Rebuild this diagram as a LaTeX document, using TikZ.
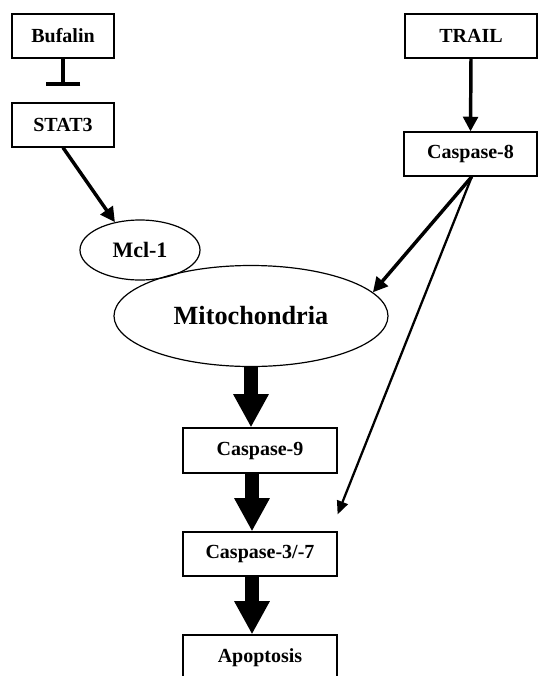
\documentclass[tikz,border=0pt]{standalone}
\usepackage{fontspec}
\setmainfont{Liberation Serif}
\usetikzlibrary{arrows.meta,positioning,shapes.geometric}
\tikzset{font=\bfseries}
\tikzset{box/.style={draw, line width=.9pt, inner sep=0pt,
    minimum height=33pt, font=\fontsize{15}{16}\bfseries}}
\tikzset{oval/.style={draw, ellipse, line width=.9pt, inner sep=0pt}}
\tikzset{act/.style={line width=2.6pt, -{Triangle[length=11pt,width=11pt]}}}
\tikzset{actthin/.style={line width=1.7pt, -{Triangle[length=10pt,width=8.5pt]}}}
\tikzset{fat/.style={line width=11pt, -{Triangle[length=25pt,width=25pt]}}}
\tikzset{inhibits/.style={line width=2.6pt, -{Bar[width=26pt,line width=3pt]}}}

\begin{document}
\begin{tikzpicture}[x=.75pt,y=-.75pt]
  \useasboundingbox (0,0) rectangle (538,676);

  \node[box, minimum width=76.5pt] (bufalin) at (63,36) {Bufalin};
  \node[box, minimum width=76.5pt] (stat3) at (63,125) {STAT3};
  \node[box, minimum width=99pt] (trail) at (471,36) {TRAIL};
  \node[box, minimum width=99.75pt] (casp8) at (470.5,154) {Caspase-8};

  \node[oval, minimum width=90pt, minimum height=45pt,
    font=\fontsize{16.5}{18}\bfseries] (mcl) at (140,250) {Mcl-1};
  \node[oval, minimum width=205.5pt, minimum height=75.75pt,
    font=\fontsize{19.7}{22}\bfseries] (mito) at (251,316) {Mitochondria};

  \node[box, minimum width=115.5pt, minimum height=33.75pt] (casp9) at (260,450.5) {Caspase-9};
  \node[box, minimum width=115.5pt] (casp37) at (260,554) {Caspase-3/-7};
  \node[box, minimum width=115.5pt, minimum height=33.75pt] (apop) at (260,657.5) {Apoptosis};

  \coordinate (bar) at ([yshift=12pt]stat3.north);
  \coordinate (c37in) at ([yshift=12.75pt]casp37.north east);

  % upstream signals
  \draw[inhibits] (bufalin.south) -- (bar);
  \draw[act] (trail.south) -- (casp8.north);
  \draw[act] (stat3.south) -- (mcl.132);
  \draw[act] ([xshift=1pt]casp8.south) -- (mito.11);
  \draw[actthin] ([xshift=1pt]casp8.south) -- (c37in);

  % caspase cascade
  \draw[fat] (mito.south) -- (mito.south |- casp9.north);
  \draw[fat] ([xshift=-6pt]casp9.south) -- ([xshift=-6pt]casp37.north);
  \draw[fat] ([xshift=-6pt]casp37.south) -- ([xshift=-6pt]apop.north);
\end{tikzpicture}
\end{document}
